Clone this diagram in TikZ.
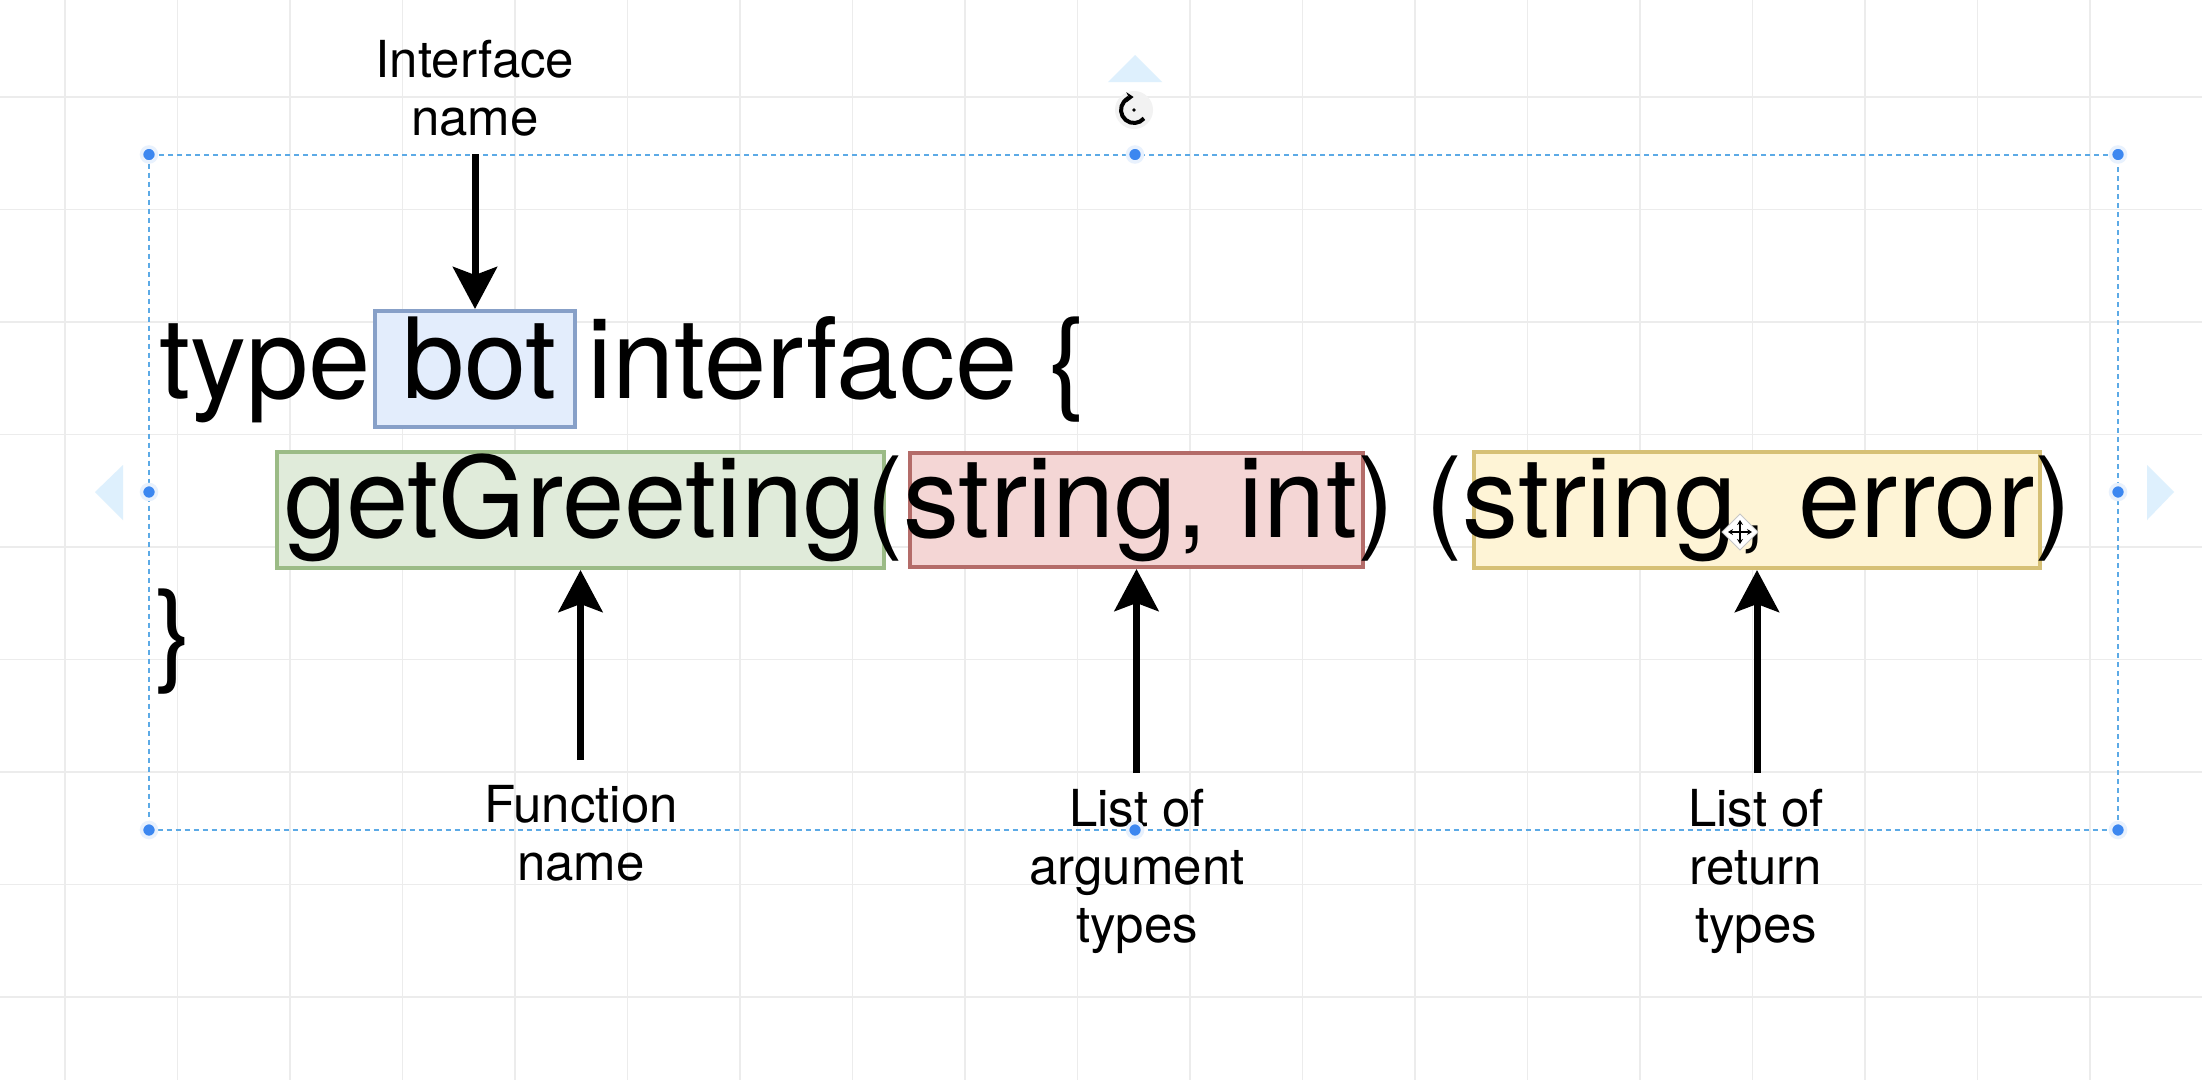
\documentclass[tikz,border=0pt]{standalone}
\usepackage{fontspec}
\setmainfont{TeX Gyre Heros}
\usetikzlibrary{arrows.meta}

\definecolor{gridc}{RGB}{236,236,236}
\definecolor{selc}{RGB}{92,170,230}
\definecolor{handc}{RGB}{60,135,240}
\definecolor{tric}{RGB}{222,240,253}
\definecolor{bfill}{RGB}{227,237,252}
\definecolor{bdraw}{RGB}{135,160,200}
\definecolor{gfill}{RGB}{224,235,218}
\definecolor{gdraw}{RGB}{155,187,134}
\definecolor{rfill}{RGB}{244,214,213}
\definecolor{rdraw}{RGB}{180,108,105}
\definecolor{yfill}{RGB}{254,244,214}
\definecolor{ydraw}{RGB}{214,192,118}

\begin{document}
\begin{tikzpicture}[x=1pt,y=-1pt,
  codetext/.style={inner sep=0pt, anchor=base west, font=\fontsize{112}{134}\selectfont},
  lbl/.style={inner sep=0pt, anchor=north, align=center, font=\fontsize{51}{58}\selectfont},
  hl/.style={line width=4pt, minimum height=116pt, inner sep=0pt},
  arr/.style={line width=7pt, -{Stealth[length=42pt,width=44pt,inset=8pt]}},
  handle/.style={circle, fill=handc, inner sep=0pt, minimum size=15pt, draw=handc!12, line width=3.5pt},
  gridline/.style={gridc, line width=1.5pt},
  selline/.style={selc, line width=2pt, dash pattern=on 5pt off 4pt},
]
\useasboundingbox (0,0) rectangle (2202,1080);
\fill[white] (0,0) rectangle (2202,1080);

% grid
\foreach \gx in {0,...,18} \draw[gridline] ({65+112.5*\gx},0) -- ({65+112.5*\gx},1080);
\foreach \gy in {0,...,8} \draw[gridline] (0,{97+112.5*\gy}) -- (2202,{97+112.5*\gy});

% selection frame
\draw[selline] (149,154.5) rectangle (2118,830);

% light direction triangles
\fill[tric] (1135,55) -- (1108,82) -- (1162,82) -- cycle;
\fill[tric] (95,492) -- (123,465) -- (123,520) -- cycle;
\fill[tric] (2174,492) -- (2147,465) -- (2147,520) -- cycle;

% rotate icon
\coordinate (rotc) at (1134,110);
\fill[gray!10] (rotc) circle (19pt);
\draw[line width=4pt, -{Stealth[length=7pt,width=10pt]}] (rotc) ++(-40:13pt) arc[start angle=-40, end angle=-268, x radius=13pt, y radius=13pt];
\fill (rotc) circle (1.8pt);

% highlight boxes
\node[hl, fill=bfill, draw=bdraw, minimum width=200pt] (botbox) at (475,369) {};
\node[hl, fill=gfill, draw=gdraw, minimum width=607pt] (fnbox) at (580.5,510) {};
\node[hl, fill=rfill, draw=rdraw, minimum width=453pt, minimum height=114pt] (argbox) at (1136.5,510) {};
\node[hl, fill=yfill, draw=ydraw, minimum width=566pt] (retbox) at (1757,510) {};

% code text
\node[codetext] (line1) at (159,398) {type bot interface \{};
\node[codetext] (line2) at (284,537) {getGreeting(string, int) (string, error)};
\node[codetext] (line3) at (155,670) {\}};

% labels
\node[lbl] (ifacelbl) at (475,40) {Interface\\name};
\node[lbl] (funclbl) at (581,785) {Function\\name};
\node[lbl] (arglbl) at (1137,789) {List of\\argument\\types};
\node[lbl] (retlbl) at (1756,789) {List of\\return\\types};

% arrows
\coordinate (ifacetail) at (475,154);
\coordinate (functail) at (580.5,760);
\coordinate (argtail) at (1136.5,773);
\coordinate (rettail) at (1757,773);
\draw[arr] (ifacetail) -- (botbox.north);
\draw[arr] (functail) -- (fnbox.south);
\draw[arr] (argtail) -- (argbox.south);
\draw[arr] (rettail) -- (retbox.south);

% handles
\foreach \hx/\hy in {149/154.5, 1135/154.5, 2118/154.5, 149/492, 2118/492, 149/830, 1135/830, 2118/830}
  \node[handle] at (\hx,\hy) {};

% move cursor
\fill[white, draw=gray!45, line width=1pt] (1740,514) -- (1758,532) -- (1740,550) -- (1722,532) -- cycle;
\draw[line width=2pt, {Stealth[length=5pt,width=6pt]}-{Stealth[length=5pt,width=6pt]}] (1728,532) -- (1752,532);
\draw[line width=2pt, {Stealth[length=5pt,width=6pt]}-{Stealth[length=5pt,width=6pt]}] (1740,520) -- (1740,544);
\end{tikzpicture}
\end{document}
